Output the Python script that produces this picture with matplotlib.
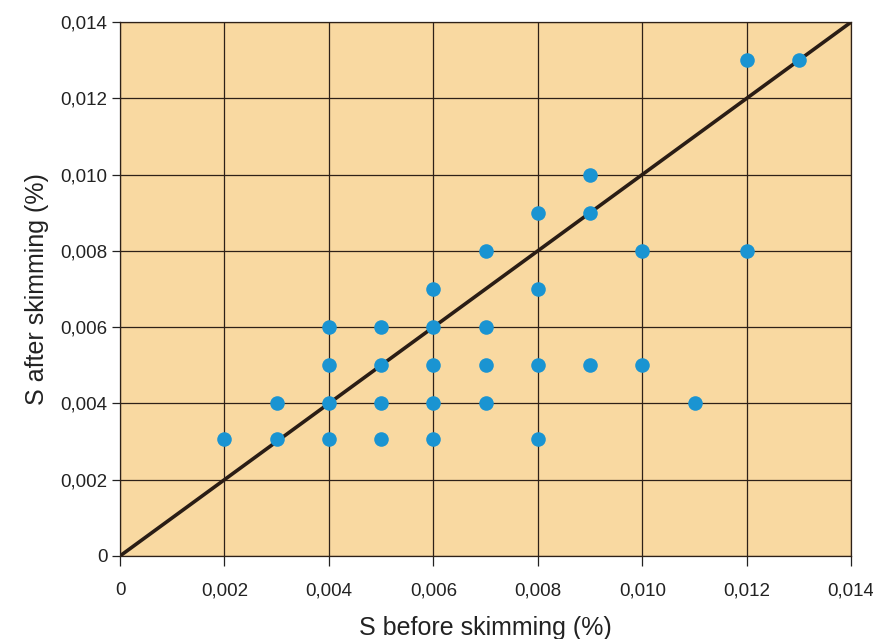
import numpy as np
import matplotlib.pyplot as plt
from matplotlib.ticker import FuncFormatter

plt.rcParams['font.family'] = ['Liberation Sans', 'DejaVu Sans']

# S before skimming (%) and S after skimming (%)
s_before = [0.002,
            0.003, 0.003,
            0.004, 0.004, 0.004, 0.004,
            0.005, 0.005, 0.005, 0.005,
            0.006, 0.006, 0.006, 0.006, 0.006,
            0.007, 0.007, 0.007, 0.007,
            0.008, 0.008, 0.008, 0.008,
            0.009, 0.009, 0.009,
            0.010, 0.010,
            0.011,
            0.012, 0.012,
            0.013]
s_after = [0.00306,
           0.004, 0.00306,
           0.006, 0.005, 0.004, 0.00306,
           0.006, 0.005, 0.004, 0.00306,
           0.007, 0.006, 0.005, 0.004, 0.00306,
           0.008, 0.006, 0.005, 0.004,
           0.009, 0.007, 0.005, 0.00306,
           0.010, 0.009, 0.005,
           0.008, 0.005,
           0.004,
           0.013, 0.008,
           0.013]
ticks = [0, 0.002, 0.004, 0.006, 0.008, 0.010, 0.012, 0.014]


def comma_fmt(v, pos):
    if abs(v) < 1e-12:
        return '0'
    return f'{v:.3f}'.replace('.', ',')


fig = plt.figure(figsize=(8.73, 6.39), dpi=100)
ax = fig.add_axes([0.1375, 0.130, 0.8375, 0.8355])
ax.set_facecolor('#F9D9A1')

ax.plot([0, 0.014], [0, 0.014], color='#2a1d15', linewidth=2.6, zorder=2)
ax.scatter(s_before, s_after, s=110, color='#1A94D2', zorder=3, linewidths=0)

ax.set_xlim(0, 0.014)
ax.set_ylim(0, 0.014)
ax.set_xticks(ticks)
ax.set_yticks(ticks)
ax.xaxis.set_major_formatter(FuncFormatter(comma_fmt))
ax.yaxis.set_major_formatter(FuncFormatter(comma_fmt))
ax.grid(True, color='#2e2118', linewidth=0.9, zorder=1)
ax.set_axisbelow(True)
for sp in ax.spines.values():
    sp.set_color('#2e2118')
    sp.set_linewidth(0.9)
ax.tick_params(axis='x', length=7, width=0.9, pad=12, labelsize=13.5, colors='#222222')
ax.tick_params(axis='y', length=6, width=0.9, pad=3, labelsize=13.5, colors='#222222')

ax.set_xlabel('S before skimming (%)', fontsize=18, color='#222222', labelpad=12)
ax.set_ylabel('S after skimming (%)', fontsize=18, color='#222222', labelpad=8)

plt.savefig('out.png', dpi=100)
